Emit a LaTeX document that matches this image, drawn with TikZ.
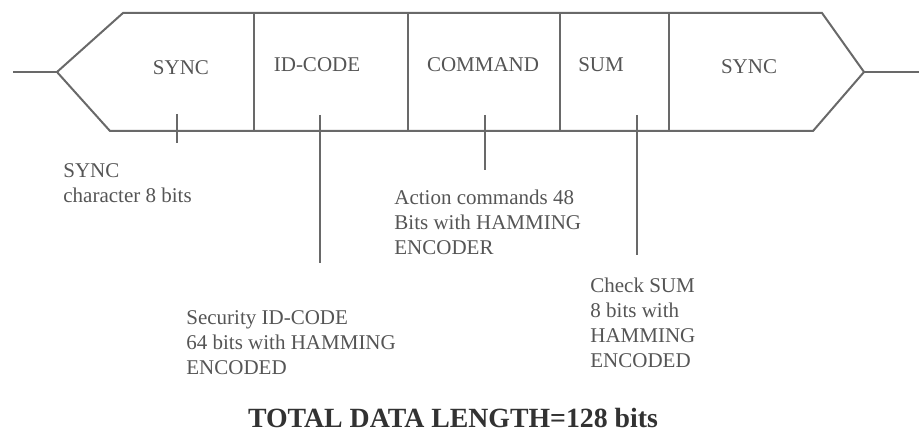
\documentclass[tikz,border=0pt]{standalone}
\usepackage{fontspec}
\setmainfont{Liberation Serif}
\usetikzlibrary{positioning, calc}
\definecolor{lgray}{RGB}{105,105,105}
\definecolor{tgray}{RGB}{85,85,85}
\definecolor{dgray}{RGB}{50,50,50}
\tikzset{
  frameln/.style={draw=lgray, line width=1pt, line join=miter},
  fieldlbl/.style={text=tgray, inner sep=0pt,
                   font=\fontsize{10.5}{12.5}\selectfont},
  notetxt/.style={text=tgray, inner sep=0pt, align=left, anchor=north west,
                  font=\fontsize{10.5}{12.5}\selectfont},
  tickln/.style={draw=lgray, line width=0.9pt}
}

\begin{document}
\begin{tikzpicture}[x=0.5pt, y=-0.5pt]
  \useasboundingbox (0,0) rectangle (919,438);

  % frame outline
  \coordinate (lin)  at (13,72);
  \coordinate (ltip) at (57,72);
  \coordinate (rtip) at (864,72);
  \coordinate (rout) at (919,72);
  \draw[frameln] (lin) -- (ltip);
  \draw[frameln] (ltip) -- (123,13) -- (822,13) -- (rtip) -- (813,131)
                 -- (110,131) -- cycle;
  \draw[frameln] (rtip) -- (rout);
  \foreach \xd in {254,408,560,669}
    \draw[frameln] (\xd,13) -- (\xd,131);

  % field names
  \node[fieldlbl] (syncA) at (181,68) {SYNC};
  \node[fieldlbl] (idcode) at (317,65) {ID-CODE};
  \node[fieldlbl] (cmd) at (483,65) {COMMAND};
  \node[fieldlbl] (sum) at (601,65) {SUM};
  \node[fieldlbl] (syncB) at (749,67) {SYNC};

  % explanations
  \node[notetxt] (syncnote) at (63,163) {SYNC\\character 8 bits};
  \node[notetxt] (cmdnote) at (394,190)
    {Action commands 48\\Bits with HAMMING\\ENCODER};
  \node[notetxt] (idnote) at (186,310)
    {Security ID-CODE\\64 bits with HAMMING\\ENCODED};
  \node[notetxt] (sumnote) at (590,278)
    {Check SUM\\8 bits with\\HAMMING\\ENCODED};

  % pointer ticks
  \coordinate (syncT) at (177,114);  \coordinate (syncE) at (177,143);
  \coordinate (idT)   at (320,115);  \coordinate (idE)   at (320,263);
  \coordinate (cmdT)  at (485,115);  \coordinate (cmdE)  at (485,170);
  \coordinate (sumT)  at (637,115);  \coordinate (sumE)  at (637,255);
  \draw[tickln] (syncT) -- (syncE);
  \draw[tickln] (idT) -- (idE);
  \draw[tickln] (cmdT) -- (cmdE);
  \draw[tickln] (sumT) -- (sumE);

  \node[text=dgray, inner sep=0pt, font=\fontsize{13.9}{16}\selectfont\bfseries]
    (total) at (453,418) {TOTAL DATA LENGTH=128 bits};
\end{tikzpicture}
\end{document}
